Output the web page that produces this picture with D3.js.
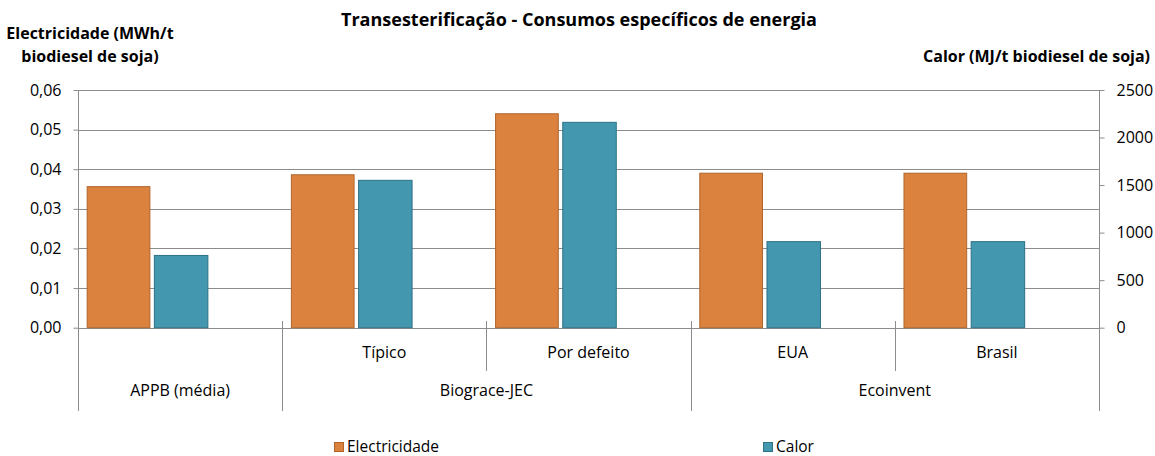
<!DOCTYPE html>
<html><head><meta charset="utf-8">
<script src="https://cdn.jsdelivr.net/npm/d3@7"></script>
<style>
body{margin:0;background:#fff;}
svg text{font-family:"Open Sans",sans-serif;fill:#000;}
</style></head>
<body><svg id="c" width="1155" height="456"></svg>
<script>
const categories = ["APPB (média)", "Típico", "Por defeito", "EUA", "Brasil"];
const subLabels = ["", "Típico", "Por defeito", "EUA", "Brasil"];
const groups = [{name:"APPB (média)", start:0, end:1},{name:"Biograce-JEC", start:1, end:3},{name:"Ecoinvent", start:3, end:5}];
const electricidade = [0.0356, 0.0386, 0.0540, 0.0390, 0.0390];
const calor = [760, 1550, 2160, 905, 905];
const leftTicks = [0, 0.01, 0.02, 0.03, 0.04, 0.05, 0.06];
const rightTicks = [0, 500, 1000, 1500, 2000, 2500];

const svg = d3.select("#c");
const L = 78, R = 1099, T = 90, B = 327.7;
const x = d3.scaleBand().domain(d3.range(categories.length)).range([L, R]).padding(0);
const yL = d3.scaleLinear().domain([0, 0.06]).range([B, T]);
const yR = d3.scaleLinear().domain([0, 2500]).range([B, T]);
const bw = x.bandwidth();
const inner = d3.scaleLinear().domain([0, 1]).range([0, bw]);

// grid
svg.append("g").selectAll("line").data(leftTicks).join("line")
  .attr("x1", L).attr("x2", R).attr("y1", d => Math.round(yL(d))+0.5).attr("y2", d => Math.round(yL(d))+0.5)
  .attr("stroke", "#8c8c8c").attr("stroke-width", 1);

// left axis
const fmt = d => d.toFixed(2).replace(".", ",");
const gL = svg.append("g").attr("transform", `translate(${L+0.5},0)`)
  .call(d3.axisLeft(yL).tickValues(leftTicks).tickFormat(fmt).tickSize(5).tickPadding(12));
gL.select(".domain").remove();
gL.selectAll(".tick line").attr("stroke", "#8c8c8c");
gL.selectAll("text").style("font-size", "16px").attr("fill", "#000");

const gR = svg.append("g").attr("transform", `translate(${R+0.5},0)`)
  .call(d3.axisRight(yR).tickValues(rightTicks).tickSize(5).tickPadding(12).tickFormat(d3.format("d")));
gR.select(".domain").remove();
gR.selectAll(".tick line").attr("stroke", "#8c8c8c");
gR.selectAll("text").style("font-size", "16px").attr("fill", "#000");

// vertical axis lines
svg.append("line").attr("x1", L+0.5).attr("x2", L+0.5).attr("y1", T).attr("y2", 411).attr("stroke", "#8c8c8c");
svg.append("line").attr("x1", R+0.5).attr("x2", R+0.5).attr("y1", T).attr("y2", 411).attr("stroke", "#8c8c8c");

// bars
svg.append("g").selectAll("rect").data(electricidade).join("rect")
  .attr("x", (d,i) => x(i) + inner(0.045)).attr("width", inner(0.307))
  .attr("y", d => yL(d)).attr("height", d => B - yL(d))
  .attr("fill", "#DB833E").attr("stroke", "#B0642B").attr("stroke-width", 1);
svg.append("g").selectAll("rect").data(calor).join("rect")
  .attr("x", (d,i) => x(i) + inner(0.374)).attr("width", inner(0.262))
  .attr("y", d => yR(d)).attr("height", d => B - yR(d))
  .attr("fill", "#4398B0").attr("stroke", "#2D7185").attr("stroke-width", 1);

// category dividers
const groupBounds = [1, 3];
const subBounds = [2, 4];
svg.append("g").selectAll("line").data(groupBounds).join("line")
  .attr("x1", d => Math.round(x(d))+0.5).attr("x2", d => Math.round(x(d))+0.5).attr("y1", 321).attr("y2", 411)
  .attr("stroke", "#8c8c8c");
svg.append("g").selectAll("line").data(subBounds).join("line")
  .attr("x1", d => Math.round(x(d))+0.5).attr("x2", d => Math.round(x(d))+0.5).attr("y1", 321).attr("y2", 371)
  .attr("stroke", "#8c8c8c");

svg.append("g").selectAll("text").data(subLabels).join("text")
  .attr("x", (d,i) => x(i) + bw/2).attr("y", 352).attr("dy", "0.35em")
  .attr("text-anchor", "middle").style("font-size", "16px").text(d => d);
svg.append("g").selectAll("text").data(groups).join("text")
  .attr("x", d => (x(d.start) + x(d.end - 1) + bw) / 2).attr("y", 390).attr("dy", "0.35em")
  .attr("text-anchor", "middle").style("font-size", "16px").text(d => d.name);

// titles
svg.append("text").attr("x", 579).attr("y", 20).attr("dy", "0.35em").attr("text-anchor", "middle")
  .style("font-size", "18px").style("font-weight", "bold").text("Transesterificação - Consumos específicos de energia");
svg.append("text").attr("x", 90).attr("y", 33).attr("dy", "0.35em").attr("text-anchor", "middle")
  .style("font-size", "16px").style("font-weight", "bold").text("Electricidade (MWh/t");
svg.append("text").attr("x", 90).attr("y", 56).attr("dy", "0.35em").attr("text-anchor", "middle")
  .style("font-size", "16px").style("font-weight", "bold").text("biodiesel de soja)");
svg.append("text").attr("x", 1150).attr("y", 56).attr("dy", "0.35em").attr("text-anchor", "end")
  .style("font-size", "16px").style("font-weight", "bold").text("Calor (MJ/t biodiesel de soja)");

// legend
const legend = [{name:"Electricidade", fill:"#DB833E", stroke:"#B0642B", x:334},{name:"Calor", fill:"#4398B0", stroke:"#2D7185", x:763}];
const lg = svg.append("g").selectAll("g").data(legend).join("g").attr("transform", d => `translate(${d.x},442)`);
lg.append("rect").attr("x", 0.5).attr("y", 0.5).attr("width", 9).attr("height", 9).attr("fill", d => d.fill).attr("stroke", d => d.stroke);
lg.append("text").attr("x", 13).attr("y", 5).attr("dy", "0.35em").style("font-size", "15.5px").text(d => d.name);
</script></body></html>
